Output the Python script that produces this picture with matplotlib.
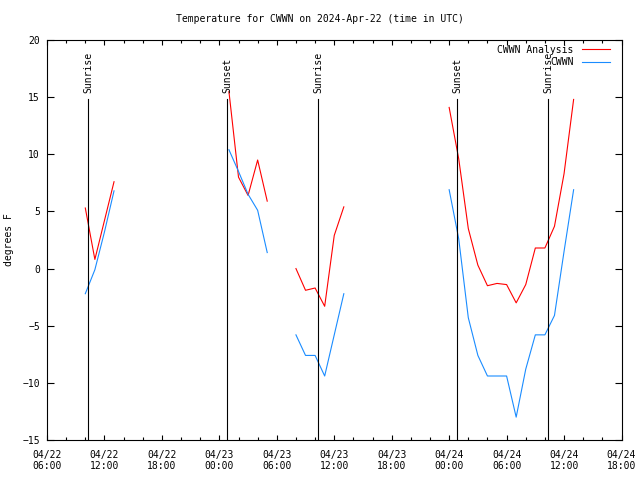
import matplotlib
matplotlib.use("Agg")
import matplotlib.pyplot as plt
import matplotlib.dates as mdates
import numpy as np
import pandas as pd

plt.rcParams['font.family'] = ['DejaVu Sans Mono']
plt.rcParams['font.size'] = 7

# hourly temperatures (deg F), split into the runs where data exists
t1 = pd.date_range("2024-04-22 10:00", periods=4, freq="h")
ana1 = [5.3, 0.8, 4.2, 7.6]
obs1 = [-2.2, -0.1, 3.2, 6.8]

t2 = pd.date_range("2024-04-23 01:00", periods=5, freq="h")
ana2 = [15.5, 8.0, 6.4, 9.5, 5.9]
obs2 = [10.4, 8.5, 6.5, 5.1, 1.4]

t3 = pd.date_range("2024-04-23 08:00", periods=6, freq="h")
ana3 = [0.0, -1.9, -1.7, -3.3, 2.9, 5.4]
obs3 = [-5.8, -7.6, -7.6, -9.4, -5.8, -2.2]

t4 = pd.date_range("2024-04-24 00:00", periods=14, freq="h")
ana4 = [14.1, 9.6, 3.5, 0.3, -1.5, -1.3, -1.4, -3.0, -1.4, 1.8, 1.8, 3.7, 8.3, 14.8]
obs4 = [6.9, 2.6, -4.3, -7.6, -9.4, -9.4, -9.4, -13.0, -8.8, -5.8, -5.8, -4.1, 1.5, 6.9]

sun_times = pd.to_datetime(["2024-04-22 10:19", "2024-04-23 00:49", "2024-04-23 10:19",
                            "2024-04-24 00:50", "2024-04-24 10:20"])
sun_labels = ["Sunrise", "Sunset", "Sunrise", "Sunset", "Sunrise"]

x_start = pd.Timestamp("2024-04-22 06:00")
x_end = pd.Timestamp("2024-04-24 18:00")

red = "#ff0000"
blue = "#1a8cff"

fig = plt.figure(figsize=(6.4, 4.8), dpi=100)
ax = fig.add_axes([47 / 640, 40 / 480, 574.5 / 640, 400 / 480])

for t, a, o in [(t1, ana1, obs1), (t2, ana2, obs2), (t3, ana3, obs3), (t4, ana4, obs4)]:
    ax.plot(t, a, color=red, lw=0.8)
    ax.plot(t, o, color=blue, lw=0.8)

for st, lab in zip(sun_times, sun_labels):
    ax.plot([st, st], [-15, 14.8], color="black", lw=0.8)
    ax.text(st, 15.4, lab, rotation=90, ha="center", va="bottom")

ax.set_xlim(x_start, x_end)
ax.set_ylim(-15, 20)
ax.set_yticks(np.arange(-15, 21, 5))
ax.xaxis.set_major_locator(mdates.HourLocator(byhour=[0, 6, 12, 18]))
ax.xaxis.set_minor_locator(mdates.HourLocator(byhour=range(0, 24, 2)))
ax.xaxis.set_major_formatter(mdates.DateFormatter("%m/%d\n%H:%M"))
ax.tick_params(axis="both", which="both", direction="in", top=True, right=True, width=0.8)
ax.tick_params(axis="x", which="major", length=3.6, pad=7)
ax.tick_params(axis="x", which="minor", length=2.2)
ax.tick_params(axis="y", which="major", length=5, pad=5)
for s in ax.spines.values():
    s.set_linewidth(0.8)

ax.set_ylabel("degrees F", labelpad=6)
fig.text(0.5, 1 - 19 / 480, "Temperature for CWWN on 2024-Apr-22 (time in UTC)",
         ha="center", va="center")

# key, top right, gnuplot style (text then line sample)
ax.text(0.917, 0.975, "CWWN Analysis", transform=ax.transAxes, ha="right", va="center")
ax.plot([0.931, 0.98], [0.977, 0.977], color=red, lw=0.8, transform=ax.transAxes)
ax.text(0.917, 0.944, "CWWN", transform=ax.transAxes, ha="right", va="center")
ax.plot([0.931, 0.98], [0.946, 0.946], color=blue, lw=0.8, transform=ax.transAxes)

fig.savefig("out.png", dpi=100)
